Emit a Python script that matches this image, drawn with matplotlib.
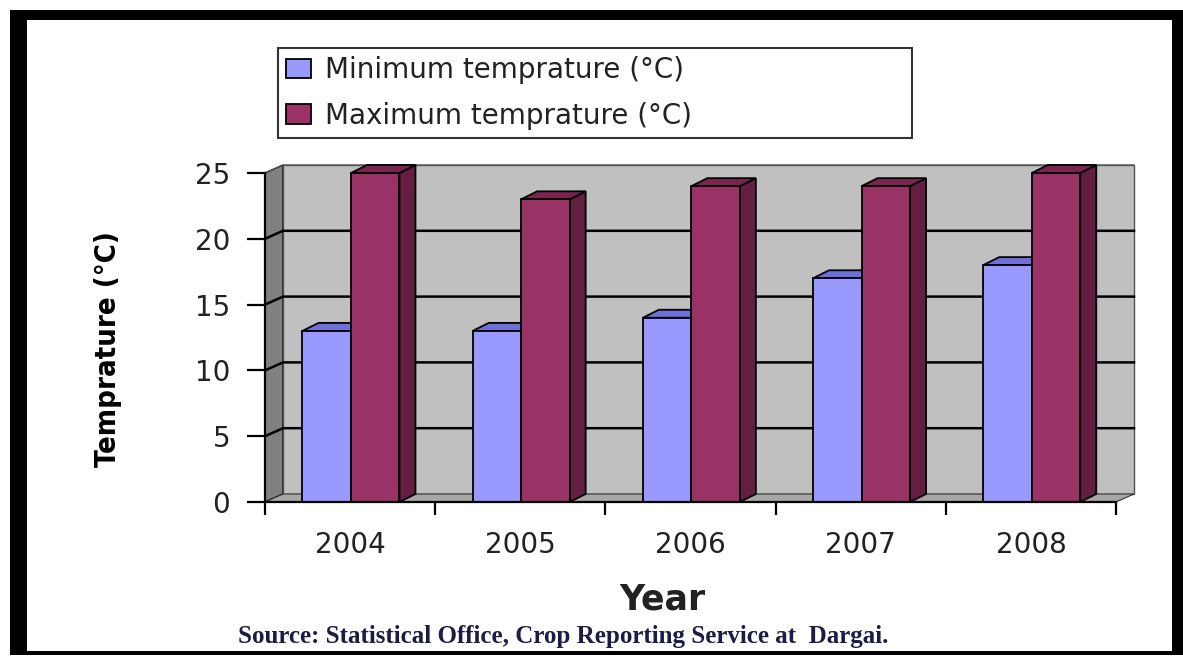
import matplotlib
matplotlib.use("Agg")
import matplotlib.pyplot as plt
from matplotlib.patches import Polygon, Rectangle, Patch

years = ['2004', '2005', '2006', '2007', '2008']
min_temp = [13, 13, 14, 17, 18]
max_temp = [25, 23, 24, 24, 25]
y_ticks = [0, 5, 10, 15, 20, 25]
series_names = ['Minimum temprature (°C)', 'Maximum temprature (°C)']

W, H = 1183, 657
fig = plt.figure(figsize=(W / 100, H / 100), dpi=100)
fig.patch.set_facecolor('white')

ax = fig.add_axes([265 / W, 1 - 502 / H, 851 / W, 329 / H])
ax.set_xlim(0, len(years))
ax.set_ylim(0, 25)
ax.patch.set_visible(False)

# depth of the fake 3D box and bars, in data units
px_x = 851 / len(years)
px_y = 329 / 25
dx, dy = 18 / px_x, 8 / px_y
bdx, bdy = 16 / px_x, 8 / px_y

# walls
ax.add_patch(Polygon([(0, 0), (0, 25), (dx, 25 + dy), (dx, dy)], fc='#808080',
                     ec='black', lw=1, clip_on=False, zorder=0))
ax.add_patch(Rectangle((dx, dy), len(years), 25, fc='#c0c0c0', ec='#555555',
                       lw=1, clip_on=False, zorder=0))
ax.add_patch(Polygon([(0, 0), (len(years), 0), (len(years) + dx, dy), (dx, dy)],
                     fc='#a6a6a6', ec='#333333', lw=0.8, clip_on=False, zorder=0.5))
for v in y_ticks[1:-1]:
    ax.plot([0, dx, len(years) + dx], [v, v + dy, v + dy], color='black', lw=1.8,
            zorder=1, clip_on=False)
ax.plot([0, dx, len(years) + dx], [25, 25 + dy, 25 + dy], color='#555555', lw=1,
        zorder=1, clip_on=False)

bw = 0.285
series = [
    (min_temp, 0.22, '#9999ff', '#6f6fd8', '#5c5cc0'),
    (max_temp, 0.505, '#993366', '#7a2450', '#631e42'),
]
for k, (vals, off, front, top, side) in enumerate(series):
    xs = [i + off for i in range(len(years))]
    z = 2 + 2 * k
    ax.bar(xs, vals, bw, align='edge', color=front, edgecolor='black', lw=1.3,
           zorder=z + 1, clip_on=False)
    for x0, v in zip(xs, vals):
        x1 = x0 + bw
        ax.add_patch(Polygon([(x1, 0), (x1, v), (x1 + bdx, v + bdy), (x1 + bdx, bdy)],
                             fc=side, ec='black', lw=1.3, zorder=z, clip_on=False))
        ax.add_patch(Polygon([(x0, v), (x1, v), (x1 + bdx, v + bdy), (x0 + bdx, v + bdy)],
                             fc=top, ec='black', lw=1.3, zorder=z, clip_on=False))

# axes
for s in ['top', 'right']:
    ax.spines[s].set_visible(False)
for s in ['left', 'bottom']:
    ax.spines[s].set_linewidth(1.6)
    ax.spines[s].set_zorder(10)
ax.set_yticks(y_ticks)
ax.tick_params(axis='y', direction='out', length=13, width=1.6, labelsize=20, pad=12,
               labelcolor='#222222')
ax.set_xticks(range(len(years) + 1))
ax.set_xticklabels([])
ax.set_xticks([i + 0.5 for i in range(len(years))], minor=True)
ax.set_xticklabels(years, minor=True)
ax.tick_params(axis='x', which='major', direction='out', length=9, width=1.6)
ax.tick_params(axis='x', which='minor', length=0, labelsize=20, pad=21,
               labelcolor='#222222')

fig.text(108 / W, 1 - 349 / H, 'Temprature (°C)', rotation=90, ha='center', va='center',
         fontsize=21, fontweight='bold', fontstretch='condensed', family='DejaVu Sans')
fig.text(662 / W, 1 - 600 / H, 'Year', ha='center', va='center', fontsize=25,
         fontweight='bold', color='#222222')
fig.text(563 / W, 1 - 637 / H, 'Source: Statistical Office, Crop Reporting Service at  Dargai.',
         ha='center', va='center', fontsize=18, fontweight='bold', family='Liberation Serif',
         color='#1c1c44')

handles = [Patch(fc='#9999ff', ec='black', lw=1.3), Patch(fc='#993366', ec='black', lw=1.3)]
leg = fig.legend(handles, series_names, loc='upper left',
                 bbox_to_anchor=(278 / W, 1 - 137 / H, 634 / W, 89 / H), mode='expand',
                 fontsize=20, frameon=True, fancybox=False, edgecolor='black',
                 handlelength=0.9, handleheight=0.7, handletextpad=0.5,
                 labelspacing=0.62, borderpad=0.3, borderaxespad=0)
leg.get_frame().set_linewidth(1.5)
for t in leg.get_texts():
    t.set_color('#222222')

# black picture frame
for x, y, w, h in [(10, 10, 17, 645), (10, 10, 1173, 10), (1172, 10, 11, 645),
                   (10, 651, 1173, 4)]:
    fig.add_artist(Rectangle((x / W, 1 - (y + h) / H), w / W, h / H,
                             transform=fig.transFigure, fc='black', ec='none'))

fig.savefig('out.png', dpi=100)
